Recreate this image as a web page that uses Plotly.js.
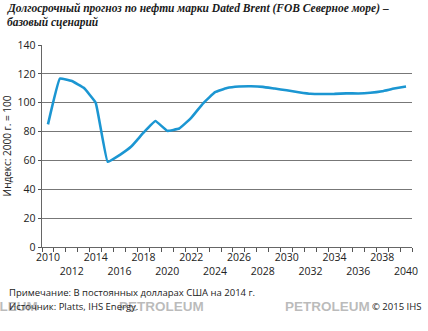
<!DOCTYPE html>
<html>
<head>
<meta charset="utf-8">
<script src="https://cdn.plot.ly/plotly-3.0.1.min.js"></script>
<style>
html,body{margin:0;padding:0;background:#fff;}
#chart{width:428px;height:331px;}
</style>
</head>
<body>
<div id="chart"></div>
<script>
const years = [2010,2011,2012,2013,2014,2015,2016,2017,2018,2019,2020,2021,2022,2023,2024,2025,2026,2027,2028,2029,2030,2031,2032,2033,2034,2035,2036,2037,2038,2039,2040];
const index = [85,116.7,115,110.3,100,59,63.7,69.8,79.2,87.3,80.5,82.1,89.5,99.6,107.3,110.2,111.2,111.4,111,109.8,108.6,107.3,106.2,106,106.1,106.5,106.4,106.9,108,109.8,111.2];
const tickYears = [2010,2012,2014,2016,2018,2020,2022,2024,2026,2028,2030,2032,2034,2036,2038,2040];
const tickLabels = tickYears.map((y,i)=> i%2===0 ? String(y) : '<br>'+y);
const titleLine1 = 'Долгосрочный прогноз по нефти марки Dated Brent (FOB Северное море) –';
const titleLine2 = 'базовый сценарий';
const yTitle = 'Индекс: 2000 г. = 100';
const note1 = 'Примечание: В постоянных долларах США на 2014 г.';
const note2 = 'Источник: Platts, IHS Energy.';
const copyright = '© 2015 IHS';
const watermark = 'PETROLEUM';

const sans = '"Open Sans", "Noto Sans", sans-serif';
const serif = '"Liberation Serif", "DejaVu Serif", serif';
const wmFont = {family: '"Liberation Sans", Arial, sans-serif', size: 13.5, color: 'rgba(120,120,120,0.5)'};
const data = [{
  x: years, y: index, type: 'scatter', mode: 'lines',
  line: {color: '#1b96d2', width: 2.6, shape: 'spline', smoothing: 0.25},
  hoverinfo: 'x+y'
}];
const layout = {
  width: 428, height: 331,
  margin: {l: 42, r: 16, t: 45, b: 84},
  paper_bgcolor: '#fff', plot_bgcolor: '#fff',
  showlegend: false,
  xaxis: {
    range: [2009.5, 2040.5], tickmode: 'array', tickvals: tickYears, ticktext: tickLabels,
    ticks: '', showgrid: false, zeroline: false, showline: true, linecolor: '#666', linewidth: 1.3,
    tickfont: {family: sans, size: 10.5, color: '#222'}, tickangle: 0,
    minor: {tickmode: 'linear', tick0: 2009.5, dtick: 1, ticks: 'outside', ticklen: 4, tickcolor: '#555', tickwidth: 1, showgrid: false}
  },
  yaxis: {
    range: [0, 140], dtick: 20, tick0: 0, ticks: 'outside', ticklen: 3, tickcolor: '#555',
    showgrid: true, gridcolor: '#777', gridwidth: 1.2, zeroline: false,
    showline: true, linecolor: '#666', linewidth: 1.3,
    tickfont: {family: sans, size: 10.5, color: '#222'},
    title: {text: yTitle, font: {family: sans, size: 10, color: '#222'}, standoff: 5}
  },
  annotations: [
    {text: '<b><i>' + titleLine1 + '</i></b>', xref: 'paper', yref: 'paper', x: -0.1, y: 1.182, xanchor: 'left', yanchor: 'middle', showarrow: false,
      font: {family: serif, size: 11.5, color: '#1a1a1a'}},
    {text: '<b><i>' + titleLine2 + '</i></b>', xref: 'paper', yref: 'paper', x: -0.1, y: 1.112, xanchor: 'left', yanchor: 'middle', showarrow: false,
      font: {family: serif, size: 11.5, color: '#1a1a1a'}},
    {text: '<b>' + watermark + '</b>', xref: 'paper', yref: 'paper', x: -0.245, y: -0.295, xanchor: 'left', yanchor: 'middle', showarrow: false, font: wmFont},
    {text: '<b>' + watermark + '</b>', xref: 'paper', yref: 'paper', x: 0.203, y: -0.295, xanchor: 'left', yanchor: 'middle', showarrow: false, font: wmFont},
    {text: '<b>' + watermark + '</b>', xref: 'paper', yref: 'paper', x: 0.651, y: -0.295, xanchor: 'left', yanchor: 'middle', showarrow: false, font: wmFont},
    {text: note1, xref: 'paper', yref: 'paper', x: -0.095, y: -0.225, xanchor: 'left', yanchor: 'middle', showarrow: false,
      font: {family: sans, size: 9.5, color: '#222'}},
    {text: note2, xref: 'paper', yref: 'paper', x: -0.095, y: -0.295, xanchor: 'left', yanchor: 'middle', showarrow: false,
      font: {family: sans, size: 9.5, color: '#222'}},
    {text: copyright, xref: 'paper', yref: 'paper', x: 1.03, y: -0.295, xanchor: 'right', yanchor: 'middle', showarrow: false,
      font: {family: sans, size: 9.5, color: '#222'}}
  ]
};
Plotly.newPlot('chart', data, layout, {displayModeBar: false, staticPlot: true});
</script>
</body>
</html>
